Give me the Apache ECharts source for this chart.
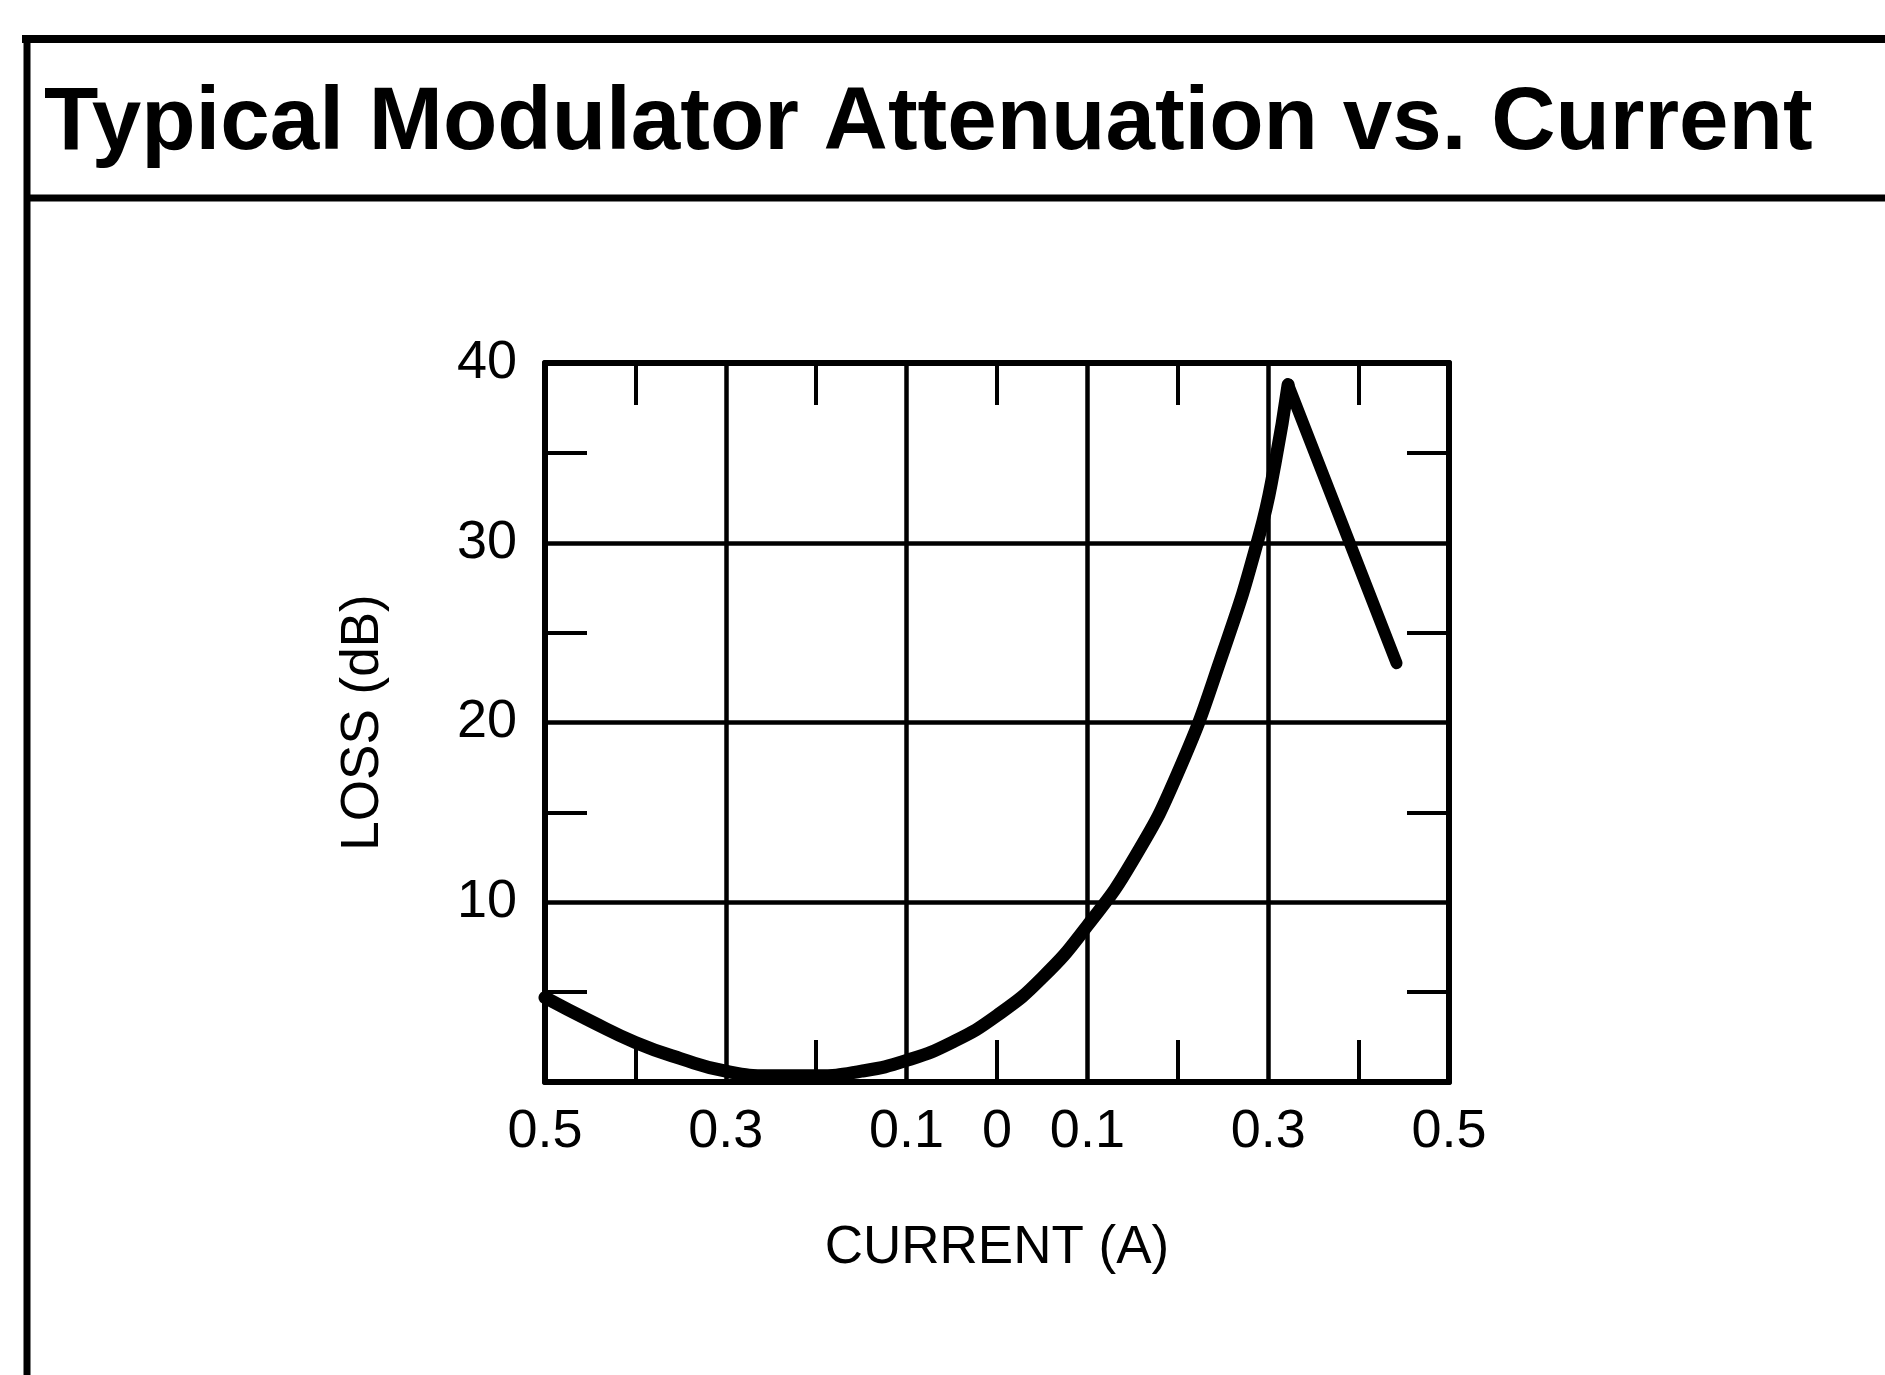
<!DOCTYPE html>
<html>
<head>
<meta charset="utf-8">
<title>Typical Modulator Attenuation vs. Current</title>
<script src="https://cdn.jsdelivr.net/npm/echarts@6/dist/echarts.min.js"></script>
<style>
  html, body { margin: 0; padding: 0; background: #fff; }
  #chart { width: 1885px; height: 1375px; }
</style>
</head>
<body>
<div id="chart"></div>
<script>
// tick labels (current shown as magnitude either side of 0)
const currentLabels = [-0.5, -0.3, -0.1, 0, 0.1, 0.3, 0.5];

// rising part of the loss curve
const currentRise = [-0.5, -0.45, -0.4, -0.35, -0.3, -0.25, -0.2, -0.15, -0.1, -0.05, 0, 0.05, 0.1, 0.15, 0.2, 0.25, 0.29, 0.3075, 0.322];
const lossRise = [4.7, 3.4, 2.2, 1.3, 0.6, 0.35, 0.35, 0.6, 1.2, 2.2, 3.7, 5.8, 8.7, 12.3, 17.2, 23.9, 30.4, 34.4, 38.8];

// straight fall after the peak
const currentFall = [0.322, 0.442];
const lossFall = [38.8, 23.3];

const FONT = 'Liberation Sans';

const chart = echarts.init(document.getElementById('chart'));

function zip(xs, ys){
  return xs.map((x, i) => [x, ys[i]]);
}

function fmtCurrent(v){
  if (Math.abs(v) < 1e-9) return '0';
  return Math.abs(v).toFixed(1);
}

const tickLine = { color: '#000', width: 4 };
const frameLine = { color: '#000', width: 6 };

const option = {
  animation: false,
  backgroundColor: '#fff',
  title: {
    text: 'Typical Modulator Attenuation vs. Current',
    left: 44,
    top: 80,
    padding: 0,
    textStyle: {
      fontFamily: FONT,
      fontSize: 89,
      fontWeight: 'bold',
      color: '#000'
    }
  },
  graphic: [
    // frame round the figure
    { type: 'line', shape: { x1: 22, y1: 39, x2: 1885, y2: 39 }, style: { stroke: '#000', lineWidth: 8 } },
    { type: 'line', shape: { x1: 24, y1: 198, x2: 1885, y2: 198 }, style: { stroke: '#000', lineWidth: 7 } },
    { type: 'line', shape: { x1: 27, y1: 35, x2: 27, y2: 1375 }, style: { stroke: '#000', lineWidth: 7 } }
  ],
  grid: {
    left: 545,
    top: 363,
    width: 904,
    height: 719
  },
  xAxis: [
    {
      type: 'value',
      position: 'bottom',
      min: -0.5,
      max: 0.5,
      interval: 0.2, // ticks from min: grid lines at 0.3 / 0.1
      axisLine: { show: true, onZero: false, lineStyle: frameLine },
      axisTick: { show: false, inside: true },
      minorTick: { show: true, splitNumber: 2, length: 42, lineStyle: tickLine },
      splitLine: { show: true, lineStyle: { color: '#000', width: 4.5 } },
      axisLabel: {
        customValues: currentLabels,
        formatter: fmtCurrent,
        margin: 23,
        fontFamily: FONT,
        fontSize: 54,
        color: '#000'
      },
      name: 'CURRENT (A)',
      nameLocation: 'middle',
      nameGap: 140,
      nameTextStyle: { fontFamily: FONT, fontSize: 53, color: '#000' }
    },
    {
      type: 'value',
      position: 'top',
      min: -0.5,
      max: 0.5,
      interval: 0.2,
      axisLine: { show: true, onZero: false, lineStyle: frameLine },
      axisTick: { show: false, inside: true },
      minorTick: { show: true, splitNumber: 2, length: 42, lineStyle: tickLine },
      splitLine: { show: false },
      axisLabel: { show: false }
    }
  ],
  yAxis: [
    {
      type: 'value',
      position: 'left',
      min: 0,
      max: 40,
      interval: 10,
      axisLine: { show: true, onZero: false, lineStyle: frameLine },
      axisTick: { show: false, inside: true },
      minorTick: { show: true, splitNumber: 2, length: 42, lineStyle: tickLine },
      splitLine: { show: true, lineStyle: { color: '#000', width: 4.5 } },
      axisLabel: {
        formatter: v => (v === 0 ? '' : String(v)),
        margin: 28,
        fontFamily: FONT,
        fontSize: 54,
        color: '#000'
      },
      name: 'LOSS (dB)',
      nameLocation: 'middle',
      nameGap: 155,
      nameTextStyle: { fontFamily: FONT, fontSize: 53, color: '#000' }
    },
    {
      type: 'value',
      position: 'right',
      min: 0,
      max: 40,
      interval: 10,
      axisLine: { show: true, onZero: false, lineStyle: frameLine },
      axisTick: { show: false, inside: true },
      minorTick: { show: true, splitNumber: 2, length: 42, lineStyle: tickLine },
      splitLine: { show: false },
      axisLabel: { show: false }
    }
  ],
  series: [
    {
      type: 'line',
      data: zip(currentRise, lossRise),
      smooth: true,
      symbol: 'none',
      lineStyle: { color: '#000', width: 13, cap: 'round', join: 'round' }
    },
    {
      type: 'line',
      data: zip(currentFall, lossFall),
      symbol: 'none',
      lineStyle: { color: '#000', width: 12, cap: 'round', join: 'round' }
    }
  ]
};

chart.setOption(option);
</script>
</body>
</html>
